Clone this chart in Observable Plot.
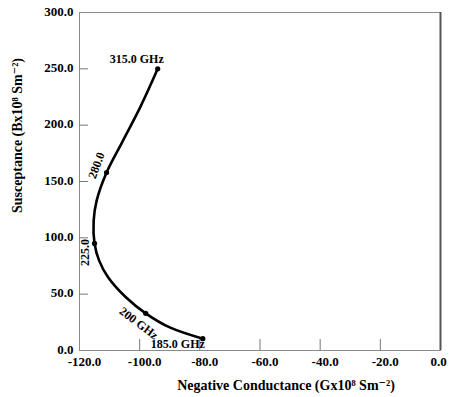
<!DOCTYPE html>
<html>
<head>
<meta charset="utf-8">
<script src="https://cdn.jsdelivr.net/npm/d3@7"></script>
<script src="https://cdn.jsdelivr.net/npm/@observablehq/plot@0.6"></script>
<style>
  html, body { margin: 0; padding: 0; background: #fff; overflow: hidden; }
</style>
</head>
<body>
<div id="chart"></div>
<script>
// Admittance locus: negative conductance vs susceptance, 185 → 315 GHz
const curveG = [-79, -90, -98, -104.5, -110.5, -113.5, -115, -115.3, -114.3, -111, -105.8, -99.8, -94];
const curveB = [10.5, 20.5, 33, 47, 65, 80, 95, 115, 133, 158, 185, 216, 250];

// Frequency markers along the locus
const markFreq = ["185.0 GHz", "200 GHz", "225.0", "280.0", "315.0 GHz"];
const markG = [-79, -98, -115, -111, -94];
const markB = [10.5, 33, 95, 158, 250];

const xTicks = [-120, -100, -80, -60, -40, -20, 0];
const yTicks = [0, 50, 100, 150, 200, 250, 300];

const xTitle = "Negative Conductance (Gx10⁸ Sm⁻²)";
const yTitle = "Susceptance (Bx10⁸ Sm⁻²)";

const curve = curveG.map((g, i) => ({g, b: curveB[i]}));
const points = markFreq.map((f, i) => ({f, g: markG[i], b: markB[i]}));

// Placement of each frequency label relative to its marker
const labelStyle = [
  {textAnchor: "end", dx: 2, dy: 5},
  {dx: -7, dy: 10, rotate: 37},
  {dx: -9, dy: 9, rotate: -90},
  {dx: -10, dy: -7, rotate: -70},
  {dx: -21, dy: -10}
];

const W = 451, H = 397, mL = 79, mR = 11, mT = 12, mB = 47;
const plotW = W - mL - mR, plotH = H - mT - mB;
const fmt = d => d.toFixed(1);

const chart = Plot.plot({
  width: W,
  height: H,
  marginLeft: mL,
  marginRight: mR,
  marginTop: mT,
  marginBottom: mB,
  x: {domain: [-120, 0], label: null},
  y: {domain: [0, 300], label: null},
  style: {
    fontFamily: "'Liberation Serif', 'DejaVu Serif', serif",
    fontWeight: "bold",
    fontSize: "13px",
    background: "white",
    color: "black"
  },
  marks: [
    Plot.frame({stroke: "#8a8a8a"}),
    Plot.ruleX([0], {stroke: "#555", strokeWidth: 2}),
    // inward tick marks
    Plot.tickX(xTicks.slice(1, -1), {x: d => d, insetTop: plotH - 11, stroke: "#777"}),
    Plot.tickY(yTicks.slice(1, -1), {y: d => d, insetRight: plotW - 9, stroke: "#777"}),
    Plot.axisX({ticks: xTicks.slice(0, -1), tickFormat: fmt, tickSize: 0, tickPadding: 6, dx: 5, label: null}),
    Plot.axisX({ticks: xTicks.slice(-1), tickFormat: fmt, tickSize: 0, tickPadding: 6, dx: -2, label: null}),
    Plot.axisY({ticks: yTicks, tickFormat: fmt, tickSize: 0, tickPadding: 6, dy: -1, label: null}),
    Plot.line(curve, {x: "g", y: "b", curve: "catmull-rom", stroke: "black", strokeWidth: 2.6}),
    Plot.dot(points, {x: "g", y: "b", r: 2.6, fill: "black"}),
    ...labelStyle.map((s, i) => Plot.text([points[i]], {x: "g", y: "b", text: "f", fill: "black", fontSize: 12, ...s})),
    Plot.text([xTitle], {frameAnchor: "bottom", textAnchor: "middle", lineAnchor: "middle", dx: 26, dy: 35, fontSize: 14}),
    Plot.text([yTitle], {frameAnchor: "left", textAnchor: "middle", lineAnchor: "middle", rotate: -90, dx: -62, dy: -46, fontSize: 14})
  ]
});

document.getElementById("chart").appendChild(chart);
</script>
</body>
</html>
